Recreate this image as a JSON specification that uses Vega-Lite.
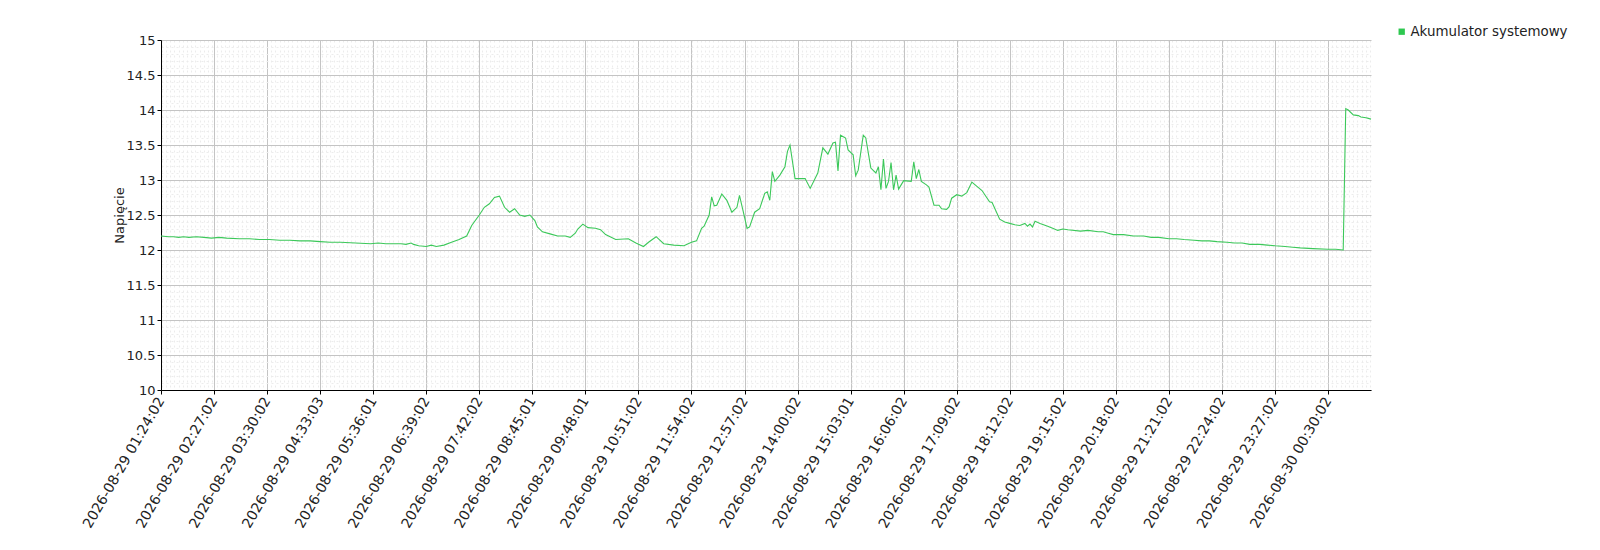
{
  "$schema": "https://vega.github.io/schema/vega-lite/v6.json",
  "description": "Napięcie - Akumulator systemowy",
  "width": 1210,
  "height": 350,
  "autosize": "none",
  "padding": {"left": 161, "top": 40, "right": 229, "bottom": 160},
  "background": "#ffffff",
  "config": {
    "font": "DejaVu Sans",
    "view": {"stroke": null},
    "axis": {
      "labelFontSize": 13,
      "labelColor": "#222222",
      "titleFontSize": 13,
      "titleFontWeight": "normal",
      "titleColor": "#222222",
      "domainColor": "#000000",
      "tickColor": "#000000"
    }
  },
  "data": {
    "values": [
      {"t": "2026-08-29T01:24:02", "v": 12.20},
      {"t": "2026-08-29T01:33:02", "v": 12.19},
      {"t": "2026-08-29T01:39:02", "v": 12.19},
      {"t": "2026-08-29T01:45:02", "v": 12.18},
      {"t": "2026-08-29T01:51:02", "v": 12.19},
      {"t": "2026-08-29T01:57:02", "v": 12.18},
      {"t": "2026-08-29T02:06:02", "v": 12.19},
      {"t": "2026-08-29T02:15:02", "v": 12.18},
      {"t": "2026-08-29T02:24:02", "v": 12.17},
      {"t": "2026-08-29T02:33:02", "v": 12.18},
      {"t": "2026-08-29T02:42:02", "v": 12.17},
      {"t": "2026-08-29T02:57:02", "v": 12.16},
      {"t": "2026-08-29T03:09:02", "v": 12.16},
      {"t": "2026-08-29T03:21:02", "v": 12.15},
      {"t": "2026-08-29T03:33:02", "v": 12.15},
      {"t": "2026-08-29T03:45:02", "v": 12.14},
      {"t": "2026-08-29T03:57:02", "v": 12.14},
      {"t": "2026-08-29T04:09:02", "v": 12.13},
      {"t": "2026-08-29T04:21:02", "v": 12.13},
      {"t": "2026-08-29T04:33:03", "v": 12.12},
      {"t": "2026-08-29T04:45:02", "v": 12.11},
      {"t": "2026-08-29T04:57:02", "v": 12.11},
      {"t": "2026-08-29T05:15:02", "v": 12.10},
      {"t": "2026-08-29T05:33:02", "v": 12.09},
      {"t": "2026-08-29T05:42:02", "v": 12.10},
      {"t": "2026-08-29T05:51:02", "v": 12.09},
      {"t": "2026-08-29T06:00:02", "v": 12.09},
      {"t": "2026-08-29T06:09:02", "v": 12.09},
      {"t": "2026-08-29T06:15:02", "v": 12.08},
      {"t": "2026-08-29T06:21:02", "v": 12.10},
      {"t": "2026-08-29T06:24:02", "v": 12.08},
      {"t": "2026-08-29T06:30:02", "v": 12.06},
      {"t": "2026-08-29T06:39:02", "v": 12.05},
      {"t": "2026-08-29T06:45:02", "v": 12.07},
      {"t": "2026-08-29T06:51:02", "v": 12.05},
      {"t": "2026-08-29T07:00:02", "v": 12.07},
      {"t": "2026-08-29T07:09:02", "v": 12.11},
      {"t": "2026-08-29T07:18:02", "v": 12.15},
      {"t": "2026-08-29T07:27:02", "v": 12.20},
      {"t": "2026-08-29T07:33:02", "v": 12.35},
      {"t": "2026-08-29T07:42:02", "v": 12.50},
      {"t": "2026-08-29T07:48:02", "v": 12.61},
      {"t": "2026-08-29T07:54:02", "v": 12.66},
      {"t": "2026-08-29T08:00:02", "v": 12.75},
      {"t": "2026-08-29T08:06:02", "v": 12.77},
      {"t": "2026-08-29T08:12:02", "v": 12.61},
      {"t": "2026-08-29T08:18:02", "v": 12.54},
      {"t": "2026-08-29T08:24:02", "v": 12.59},
      {"t": "2026-08-29T08:30:02", "v": 12.50},
      {"t": "2026-08-29T08:36:02", "v": 12.48},
      {"t": "2026-08-29T08:42:02", "v": 12.50},
      {"t": "2026-08-29T08:48:02", "v": 12.42},
      {"t": "2026-08-29T08:51:02", "v": 12.33},
      {"t": "2026-08-29T08:57:02", "v": 12.26},
      {"t": "2026-08-29T09:06:02", "v": 12.23},
      {"t": "2026-08-29T09:15:02", "v": 12.20},
      {"t": "2026-08-29T09:24:02", "v": 12.20},
      {"t": "2026-08-29T09:30:02", "v": 12.18},
      {"t": "2026-08-29T09:36:02", "v": 12.24},
      {"t": "2026-08-29T09:39:02", "v": 12.30},
      {"t": "2026-08-29T09:45:02", "v": 12.37},
      {"t": "2026-08-29T09:51:02", "v": 12.32},
      {"t": "2026-08-29T10:00:02", "v": 12.31},
      {"t": "2026-08-29T10:06:02", "v": 12.29},
      {"t": "2026-08-29T10:12:02", "v": 12.22},
      {"t": "2026-08-29T10:24:02", "v": 12.15},
      {"t": "2026-08-29T10:39:02", "v": 12.16},
      {"t": "2026-08-29T10:48:02", "v": 12.10},
      {"t": "2026-08-29T10:57:02", "v": 12.05},
      {"t": "2026-08-29T11:03:02", "v": 12.11},
      {"t": "2026-08-29T11:12:02", "v": 12.19},
      {"t": "2026-08-29T11:21:02", "v": 12.09},
      {"t": "2026-08-29T11:33:02", "v": 12.07},
      {"t": "2026-08-29T11:45:02", "v": 12.06},
      {"t": "2026-08-29T11:54:02", "v": 12.11},
      {"t": "2026-08-29T12:00:02", "v": 12.13},
      {"t": "2026-08-29T12:06:02", "v": 12.31},
      {"t": "2026-08-29T12:09:02", "v": 12.34},
      {"t": "2026-08-29T12:15:02", "v": 12.50},
      {"t": "2026-08-29T12:18:02", "v": 12.76},
      {"t": "2026-08-29T12:21:02", "v": 12.63},
      {"t": "2026-08-29T12:24:02", "v": 12.64},
      {"t": "2026-08-29T12:30:02", "v": 12.80},
      {"t": "2026-08-29T12:36:02", "v": 12.71},
      {"t": "2026-08-29T12:42:02", "v": 12.54},
      {"t": "2026-08-29T12:48:02", "v": 12.61},
      {"t": "2026-08-29T12:51:02", "v": 12.78},
      {"t": "2026-08-29T12:57:02", "v": 12.47},
      {"t": "2026-08-29T13:00:02", "v": 12.31},
      {"t": "2026-08-29T13:03:02", "v": 12.33},
      {"t": "2026-08-29T13:09:02", "v": 12.54},
      {"t": "2026-08-29T13:15:02", "v": 12.59},
      {"t": "2026-08-29T13:21:02", "v": 12.81},
      {"t": "2026-08-29T13:24:02", "v": 12.83},
      {"t": "2026-08-29T13:27:02", "v": 12.71},
      {"t": "2026-08-29T13:30:02", "v": 13.12},
      {"t": "2026-08-29T13:33:02", "v": 12.98},
      {"t": "2026-08-29T13:39:02", "v": 13.07},
      {"t": "2026-08-29T13:45:02", "v": 13.19},
      {"t": "2026-08-29T13:48:02", "v": 13.41},
      {"t": "2026-08-29T13:51:02", "v": 13.50},
      {"t": "2026-08-29T13:57:02", "v": 13.02},
      {"t": "2026-08-29T14:09:02", "v": 13.02},
      {"t": "2026-08-29T14:15:02", "v": 12.88},
      {"t": "2026-08-29T14:24:02", "v": 13.10},
      {"t": "2026-08-29T14:30:02", "v": 13.46},
      {"t": "2026-08-29T14:36:02", "v": 13.37},
      {"t": "2026-08-29T14:42:02", "v": 13.53},
      {"t": "2026-08-29T14:45:02", "v": 13.54},
      {"t": "2026-08-29T14:48:02", "v": 13.13},
      {"t": "2026-08-29T14:51:02", "v": 13.64},
      {"t": "2026-08-29T14:57:02", "v": 13.60},
      {"t": "2026-08-29T15:00:02", "v": 13.43},
      {"t": "2026-08-29T15:06:02", "v": 13.36},
      {"t": "2026-08-29T15:09:02", "v": 13.06},
      {"t": "2026-08-29T15:12:02", "v": 13.14},
      {"t": "2026-08-29T15:18:02", "v": 13.64},
      {"t": "2026-08-29T15:21:02", "v": 13.60},
      {"t": "2026-08-29T15:27:02", "v": 13.17},
      {"t": "2026-08-29T15:33:02", "v": 13.10},
      {"t": "2026-08-29T15:36:02", "v": 13.19},
      {"t": "2026-08-29T15:39:02", "v": 12.86},
      {"t": "2026-08-29T15:42:02", "v": 13.30},
      {"t": "2026-08-29T15:45:02", "v": 12.88},
      {"t": "2026-08-29T15:48:02", "v": 12.98},
      {"t": "2026-08-29T15:51:02", "v": 13.25},
      {"t": "2026-08-29T15:54:02", "v": 12.86},
      {"t": "2026-08-29T15:57:02", "v": 13.07},
      {"t": "2026-08-29T16:00:02", "v": 12.87},
      {"t": "2026-08-29T16:06:02", "v": 12.99},
      {"t": "2026-08-29T16:15:02", "v": 12.98},
      {"t": "2026-08-29T16:18:02", "v": 13.26},
      {"t": "2026-08-29T16:21:02", "v": 13.02},
      {"t": "2026-08-29T16:24:02", "v": 13.15},
      {"t": "2026-08-29T16:27:02", "v": 12.98},
      {"t": "2026-08-29T16:33:02", "v": 12.93},
      {"t": "2026-08-29T16:36:02", "v": 12.90},
      {"t": "2026-08-29T16:42:02", "v": 12.64},
      {"t": "2026-08-29T16:48:02", "v": 12.64},
      {"t": "2026-08-29T16:51:02", "v": 12.59},
      {"t": "2026-08-29T16:57:02", "v": 12.58},
      {"t": "2026-08-29T17:00:02", "v": 12.62},
      {"t": "2026-08-29T17:03:02", "v": 12.74},
      {"t": "2026-08-29T17:09:02", "v": 12.79},
      {"t": "2026-08-29T17:15:02", "v": 12.77},
      {"t": "2026-08-29T17:21:02", "v": 12.82},
      {"t": "2026-08-29T17:27:02", "v": 12.97},
      {"t": "2026-08-29T17:33:02", "v": 12.91},
      {"t": "2026-08-29T17:39:02", "v": 12.85},
      {"t": "2026-08-29T17:48:02", "v": 12.69},
      {"t": "2026-08-29T17:51:02", "v": 12.68},
      {"t": "2026-08-29T18:00:02", "v": 12.44},
      {"t": "2026-08-29T18:06:02", "v": 12.40},
      {"t": "2026-08-29T18:12:02", "v": 12.38},
      {"t": "2026-08-29T18:18:02", "v": 12.36},
      {"t": "2026-08-29T18:24:02", "v": 12.35},
      {"t": "2026-08-29T18:30:02", "v": 12.38},
      {"t": "2026-08-29T18:33:02", "v": 12.34},
      {"t": "2026-08-29T18:36:02", "v": 12.37},
      {"t": "2026-08-29T18:39:02", "v": 12.33},
      {"t": "2026-08-29T18:42:02", "v": 12.41},
      {"t": "2026-08-29T18:48:02", "v": 12.38},
      {"t": "2026-08-29T18:57:02", "v": 12.34},
      {"t": "2026-08-29T19:03:02", "v": 12.31},
      {"t": "2026-08-29T19:09:02", "v": 12.28},
      {"t": "2026-08-29T19:15:02", "v": 12.30},
      {"t": "2026-08-29T19:21:02", "v": 12.29},
      {"t": "2026-08-29T19:36:02", "v": 12.27},
      {"t": "2026-08-29T19:45:02", "v": 12.28},
      {"t": "2026-08-29T19:57:02", "v": 12.26},
      {"t": "2026-08-29T20:03:02", "v": 12.26},
      {"t": "2026-08-29T20:09:02", "v": 12.24},
      {"t": "2026-08-29T20:15:02", "v": 12.22},
      {"t": "2026-08-29T20:27:02", "v": 12.22},
      {"t": "2026-08-29T20:39:02", "v": 12.20},
      {"t": "2026-08-29T20:51:02", "v": 12.20},
      {"t": "2026-08-29T21:00:02", "v": 12.18},
      {"t": "2026-08-29T21:09:02", "v": 12.18},
      {"t": "2026-08-29T21:21:02", "v": 12.16},
      {"t": "2026-08-29T21:30:02", "v": 12.16},
      {"t": "2026-08-29T21:39:02", "v": 12.15},
      {"t": "2026-08-29T21:51:02", "v": 12.14},
      {"t": "2026-08-29T22:00:02", "v": 12.13},
      {"t": "2026-08-29T22:09:02", "v": 12.13},
      {"t": "2026-08-29T22:18:02", "v": 12.12},
      {"t": "2026-08-29T22:30:02", "v": 12.11},
      {"t": "2026-08-29T22:39:02", "v": 12.10},
      {"t": "2026-08-29T22:48:02", "v": 12.10},
      {"t": "2026-08-29T22:57:02", "v": 12.08},
      {"t": "2026-08-29T23:09:02", "v": 12.08},
      {"t": "2026-08-29T23:18:02", "v": 12.07},
      {"t": "2026-08-29T23:27:02", "v": 12.06},
      {"t": "2026-08-29T23:39:02", "v": 12.05},
      {"t": "2026-08-29T23:48:02", "v": 12.04},
      {"t": "2026-08-29T23:57:02", "v": 12.03},
      {"t": "2026-08-30T00:12:02", "v": 12.02},
      {"t": "2026-08-30T00:30:02", "v": 12.01},
      {"t": "2026-08-30T00:39:02", "v": 12.01},
      {"t": "2026-08-30T00:48:02", "v": 12.00},
      {"t": "2026-08-30T00:51:02", "v": 14.02},
      {"t": "2026-08-30T00:54:02", "v": 14.00},
      {"t": "2026-08-30T01:00:02", "v": 13.93},
      {"t": "2026-08-30T01:06:02", "v": 13.92},
      {"t": "2026-08-30T01:09:02", "v": 13.90},
      {"t": "2026-08-30T01:15:02", "v": 13.89},
      {"t": "2026-08-30T01:21:02", "v": 13.87}
    ]
  },
  "layer": [
    {
      "mark": {"type": "line", "opacity": 0},
      "encoding": {
        "x": {
          "field": "t",
          "type": "temporal",
          "axis": {
            "orient": "bottom",
            "title": null,
            "labels": false,
            "ticks": false,
            "domain": false,
            "grid": true,
            "gridColor": "#ececec",
            "gridDash": [2, 3],
            "tickCount": 240
          }
        },
        "y": {
          "field": "v",
          "type": "quantitative",
          "scale": {"domain": [10, 15], "nice": false, "zero": false},
          "axis": {
            "orient": "left",
            "title": null,
            "labels": false,
            "ticks": false,
            "domain": false,
            "grid": true,
            "gridColor": "#ececec",
            "gridDash": [2, 3],
            "values": [10.1, 10.2, 10.3, 10.4, 10.6, 10.7, 10.8, 10.9, 11.1, 11.2, 11.3, 11.4, 11.6, 11.7, 11.8, 11.9, 12.1, 12.2, 12.3, 12.4, 12.6, 12.7, 12.8, 12.9, 13.1, 13.2, 13.3, 13.4, 13.6, 13.7, 13.8, 13.9, 14.1, 14.2, 14.3, 14.4, 14.6, 14.7, 14.8, 14.9]
          }
        }
      }
    },
    {
      "mark": {"type": "line", "strokeWidth": 1.1, "interpolate": "linear"},
      "encoding": {
        "x": {
          "field": "t",
          "type": "temporal",
          "axis": {
            "orient": "bottom",
            "title": null,
            "grid": true,
            "gridColor": "#c4c4c4",
            "tickSize": 4,
            "labelFontSize": 14,
            "labelAngle": -60,
            "labelAlign": "right",
            "labelBaseline": "middle",
            "labelPadding": 4,
            "labelOverlap": false,
            "labelFlush": false,
            "labelBound": false,
            "labelExpr": "timeFormat(datum.value, '%Y-%m-%d %H:%M:%S')",
            "values": [
              {"year": 2026, "month": 8, "date": 29, "hours": 1, "minutes": 24, "seconds": 2},
              {"year": 2026, "month": 8, "date": 29, "hours": 2, "minutes": 27, "seconds": 2},
              {"year": 2026, "month": 8, "date": 29, "hours": 3, "minutes": 30, "seconds": 2},
              {"year": 2026, "month": 8, "date": 29, "hours": 4, "minutes": 33, "seconds": 3},
              {"year": 2026, "month": 8, "date": 29, "hours": 5, "minutes": 36, "seconds": 1},
              {"year": 2026, "month": 8, "date": 29, "hours": 6, "minutes": 39, "seconds": 2},
              {"year": 2026, "month": 8, "date": 29, "hours": 7, "minutes": 42, "seconds": 2},
              {"year": 2026, "month": 8, "date": 29, "hours": 8, "minutes": 45, "seconds": 1},
              {"year": 2026, "month": 8, "date": 29, "hours": 9, "minutes": 48, "seconds": 1},
              {"year": 2026, "month": 8, "date": 29, "hours": 10, "minutes": 51, "seconds": 2},
              {"year": 2026, "month": 8, "date": 29, "hours": 11, "minutes": 54, "seconds": 2},
              {"year": 2026, "month": 8, "date": 29, "hours": 12, "minutes": 57, "seconds": 2},
              {"year": 2026, "month": 8, "date": 29, "hours": 14, "minutes": 0, "seconds": 2},
              {"year": 2026, "month": 8, "date": 29, "hours": 15, "minutes": 3, "seconds": 1},
              {"year": 2026, "month": 8, "date": 29, "hours": 16, "minutes": 6, "seconds": 2},
              {"year": 2026, "month": 8, "date": 29, "hours": 17, "minutes": 9, "seconds": 2},
              {"year": 2026, "month": 8, "date": 29, "hours": 18, "minutes": 12, "seconds": 2},
              {"year": 2026, "month": 8, "date": 29, "hours": 19, "minutes": 15, "seconds": 2},
              {"year": 2026, "month": 8, "date": 29, "hours": 20, "minutes": 18, "seconds": 2},
              {"year": 2026, "month": 8, "date": 29, "hours": 21, "minutes": 21, "seconds": 2},
              {"year": 2026, "month": 8, "date": 29, "hours": 22, "minutes": 24, "seconds": 2},
              {"year": 2026, "month": 8, "date": 29, "hours": 23, "minutes": 27, "seconds": 2},
              {"year": 2026, "month": 8, "date": 30, "hours": 0, "minutes": 30, "seconds": 2}
            ]
          }
        },
        "y": {
          "field": "v",
          "type": "quantitative",
          "scale": {"domain": [10, 15], "nice": false, "zero": false},
          "axis": {
            "orient": "left",
            "title": "Napięcie",
            "titlePadding": 0,
            "grid": true,
            "gridColor": "#c4c4c4",
            "tickSize": 4,
            "labelPadding": 2,
            "format": "~g",
            "values": [10, 10.5, 11, 11.5, 12, 12.5, 13, 13.5, 14, 14.5, 15]
          }
        },
        "color": {
          "datum": "Akumulator systemowy",
          "type": "nominal",
          "scale": {"domain": ["Akumulator systemowy"], "range": ["#3cc85a"]},
          "legend": {
            "title": null,
            "orient": "none",
            "legendX": 1234,
            "legendY": -15,
            "symbolType": "square",
            "symbolSize": 40,
            "symbolFillColor": "#2ec850",
            "symbolStrokeWidth": 0,
            "labelFontSize": 13.4,
            "labelLimit": 400,
            "labelColor": "#222222",
            "labelOffset": 2
          }
        }
      }
    }
  ],
  "resolve": {"axis": {"x": "independent", "y": "independent"}}
}
